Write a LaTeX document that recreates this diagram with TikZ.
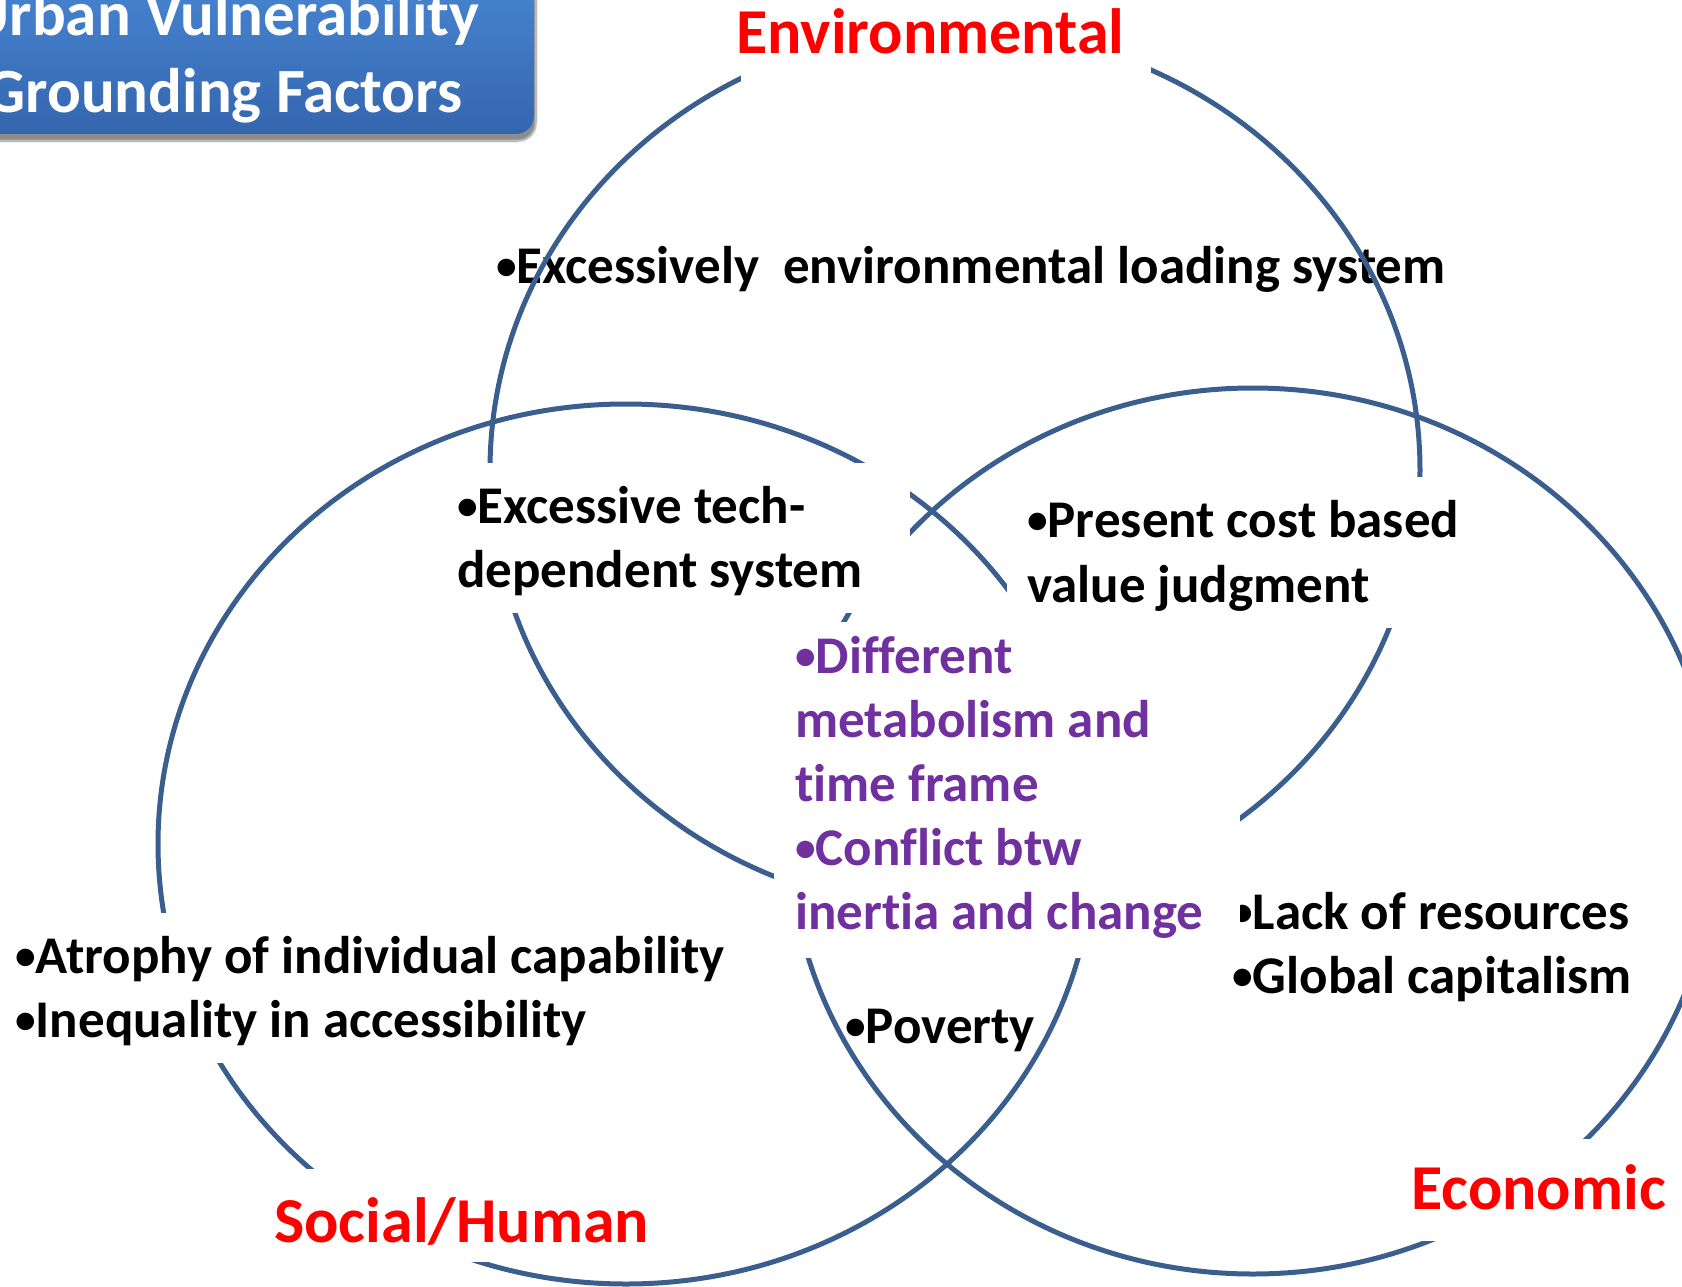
\documentclass[tikz,border=0pt]{standalone}
\usepackage{fontspec}
\setmainfont{Carlito}[Ligatures=NoCommon]
\usetikzlibrary{shadows.blur}
\definecolor{ringc}{HTML}{3A5F8F}
\definecolor{catred}{HTML}{FF0000}
\definecolor{midpurple}{HTML}{7030A0}
\definecolor{boxtop}{HTML}{4A88D6}
\definecolor{boxbot}{HTML}{3466AE}
\newcommand\bul{\raisebox{0.07em}{\scalebox{0.78}{•}}}
\begin{document}
\begin{tikzpicture}[x=1pt,y=-1pt,
  ring/.style={draw=ringc, line width=5pt},
  mask/.style={fill=white},
  body/.style={anchor=base west, inner sep=0pt, font=\fontsize{53}{64}\selectfont\bfseries},
  mid/.style={body, text=midpurple},
  cat/.style={anchor=base west, inner sep=0pt, text=catred, font=\fontsize{64}{77}\selectfont\bfseries},
  titletxt/.style={anchor=base, inner sep=0pt, text=white, font=\fontsize{63}{77}\selectfont\bfseries},
]
\useasboundingbox (0,0) rectangle (1682,1287);
\clip (0,0) rectangle (1682,1287);

% texts lying under the rings
\node[body] (envtxt) at (496,283) {\bul Excessively\ \ environmental loading system};
\node[body] (pov) at (845,1043) {\bul Poverty};
\node[body] (lack1) at (1232,929) {\bul Lack of resources};
\node[body] (lack2) at (1232,993) {\bul Global capitalism};

% the three rings
\draw[ring] (955,470) ellipse [x radius=465, y radius=441];
\draw[ring] (626,844) ellipse [x radius=468, y radius=440];
\draw[ring] (1253,831) ellipse [x radius=464, y radius=443];

% white text boxes that hide the rings
\fill[mask] (741,0) rectangle (1151,85);
\fill[mask] (455,463) rectangle (910,613);
\fill[mask] (1007,477) rectangle (1465,628);
\fill[mask] (774,622) rectangle (1240,958);
\fill[mask] (0,913) rectangle (735,1063);
\fill[mask] (260,1169) rectangle (665,1262);
\fill[mask] (1405,1139) rectangle (1682,1241);

% texts in the boxes
\node[body] (tech1) at (457,523) {\bul Excessive tech-};
\node[body] (tech2) at (457,587) {dependent system};
\node[body] (cost1) at (1027,537) {\bul Present cost based};
\node[body] (cost2) at (1027,602) {value judgment};
\node[mid] (m1) at (795,673) {\bul Different};
\node[mid] (m2) at (795,737) {metabolism and};
\node[mid] (m3) at (795,801) {time frame};
\node[mid] (m4) at (795,865) {\bul Conflict btw};
\node[mid] (m5) at (795,929) {inertia and change};
\node[body] (atr1) at (15,973) {\bul Atrophy of individual capability};
\node[body] (atr2) at (15,1037) {\bul Inequality in accessibility};

\node[cat] (env) at (736,54) {Environmental};
\node[cat] (soc) at (274,1242) {Social/Human};
\node[cat] (eco) at (1411,1209) {Economic};

% title box
\path[blur shadow={shadow xshift=2pt, shadow yshift=-7pt, shadow blur steps=10, shadow opacity=45},
      rounded corners=18pt, top color=boxtop, bottom color=boxbot]
  (-40,-40) rectangle (534,134);
\node[titletxt] (title1) at (224,36) {Urban Vulnerability};
\node[titletxt] (title2) at (224,113) {Grounding Factors};
\end{tikzpicture}
\end{document}
